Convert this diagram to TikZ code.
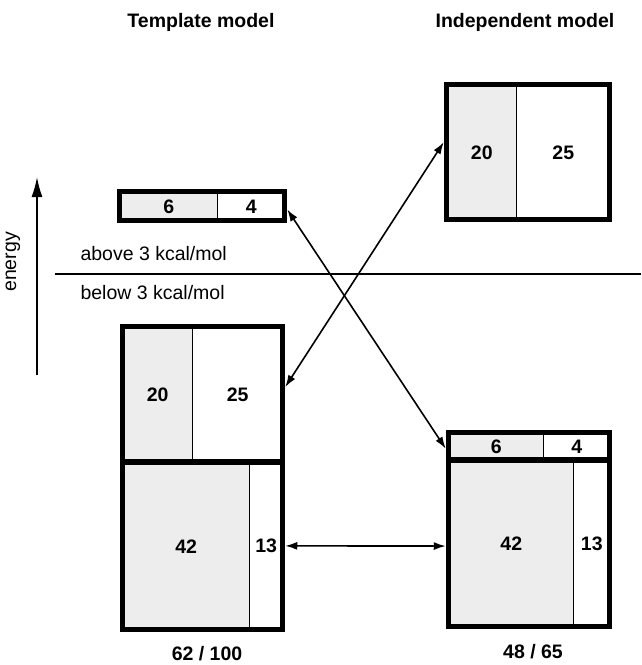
\documentclass[tikz,border=0pt]{standalone}
\usepackage{fontspec}
\setmainfont{Liberation Sans}
\usetikzlibrary{arrows.meta,calc}
\definecolor{cellgrey}{HTML}{EDEDED}
\tikzset{
  frame/.style={draw, line width=5.5pt, rectangle, inner sep=0pt, fill=none},
  gcell/.style={draw, line width=1pt, fill=cellgrey, rectangle, inner sep=0pt, anchor=north west, font=\fontsize{19.5}{20}\selectfont\bfseries},
  wcell/.style={draw, line width=1pt, fill=white, rectangle, inner sep=0pt, anchor=north west, font=\fontsize{19.5}{20}\selectfont\bfseries},
  title/.style={font=\fontsize{19.5}{20}\selectfont\bfseries},
  lab/.style={font=\fontsize{19.5}{20}\selectfont},
  conn/.style={line width=1.6pt, {Latex[length=12pt,width=8pt]}-{Latex[length=12pt,width=8pt]}},
  thickdiv/.style={line width=5.5pt}
}
\begin{document}
\begin{tikzpicture}[x=1pt,y=-1pt]
\useasboundingbox (0,0) rectangle (641,665);
% titles
\node[title] (t1) at (201,22) {Template model};
\node[title] (t2) at (525,22) {Independent model};
% energy axis
\coordinate (eb) at (37,375);
\coordinate (et) at (37,177);
\draw[line width=1.6pt,-{Latex[length=20pt,width=11pt]}] (eb) -- (et);
\node[lab, rotate=90] (en) at (13,262) {energy};
% separation line
\coordinate (ll) at (55,274);
\coordinate (lr) at (641,274);
\draw[line width=1.5pt] (ll) -- (lr);
\node[lab, anchor=west] (above) at (77,254) {above 3 kcal/mol};
\node[lab, anchor=west] (below) at (77,293) {below 3 kcal/mol};
% small box (template, high)
\node[gcell, minimum width=97.5pt, minimum height=29pt] (s6) at (119.5,191.5) {6};
\node[wcell, minimum width=67.5pt, minimum height=29pt] (s4) at (217,191.5) {4};
\node[frame, minimum width=165pt, minimum height=29pt] (smF) at (202,206) {};
% top right box (independent, high)
\node[gcell, minimum width=69.5pt, minimum height=135pt] (r20) at (446.5,84.5) {20};
\node[wcell, minimum width=93.5pt, minimum height=135pt] (r25) at (516,84.5) {25};
\node[frame, minimum width=163pt, minimum height=135pt] (trF) at (528,152) {};
% left big box (template, low)
\node[gcell, minimum width=69.5pt, minimum height=135.5pt] (l20) at (122.5,326.5) {20};
\node[wcell, minimum width=90.5pt, minimum height=135.5pt] (l25) at (192,326.5) {25};
\node[gcell, minimum width=126.5pt, minimum height=167.5pt] (l42) at (122.5,462) {42};
\node[wcell, minimum width=33.5pt, minimum height=167.5pt] (l13) at (249,462) {13};
\node[frame, minimum width=160pt, minimum height=303pt] (lbF) at (202.5,478) {};
\draw[thickdiv] (lbF.west |- l42.north west) -- (lbF.east |- l42.north west);
% right bottom box (independent, low)
\node[gcell, minimum width=94.5pt, minimum height=27.5pt] (b6) at (448.5,432.5) {6};
\node[wcell, minimum width=66.5pt, minimum height=27.5pt] (b4) at (543,432.5) {4};
\node[gcell, minimum width=124.5pt, minimum height=166.5pt] (b42) at (448.5,460) {42};
\node[wcell, minimum width=36.5pt, minimum height=166.5pt] (b13) at (573,460) {13};
\node[frame, minimum width=161pt, minimum height=194pt] (rbF) at (529,529.5) {};
\draw[thickdiv] (rbF.west |- b42.north west) -- (rbF.east |- b42.north west);
% totals
\node[title] (tot1) at (207,654) {62 / 100};
\node[title] (tot2) at (533,652) {48 / 65};
% connectors
\draw[conn] ($(smF.north east)!0.6!(smF.south east)$) -- ($(rbF.north west)!0.095!(rbF.south west)$);
\draw[conn] ($(trF.north west)!0.43!(trF.south west)$) -- ($(lbF.north east)!0.205!(lbF.south east)$);
\draw[conn] ($(lbF.north east)!0.72!(lbF.south east)$) -- ($(rbF.north west)!0.583!(rbF.south west)$);
\end{tikzpicture}
\end{document}
